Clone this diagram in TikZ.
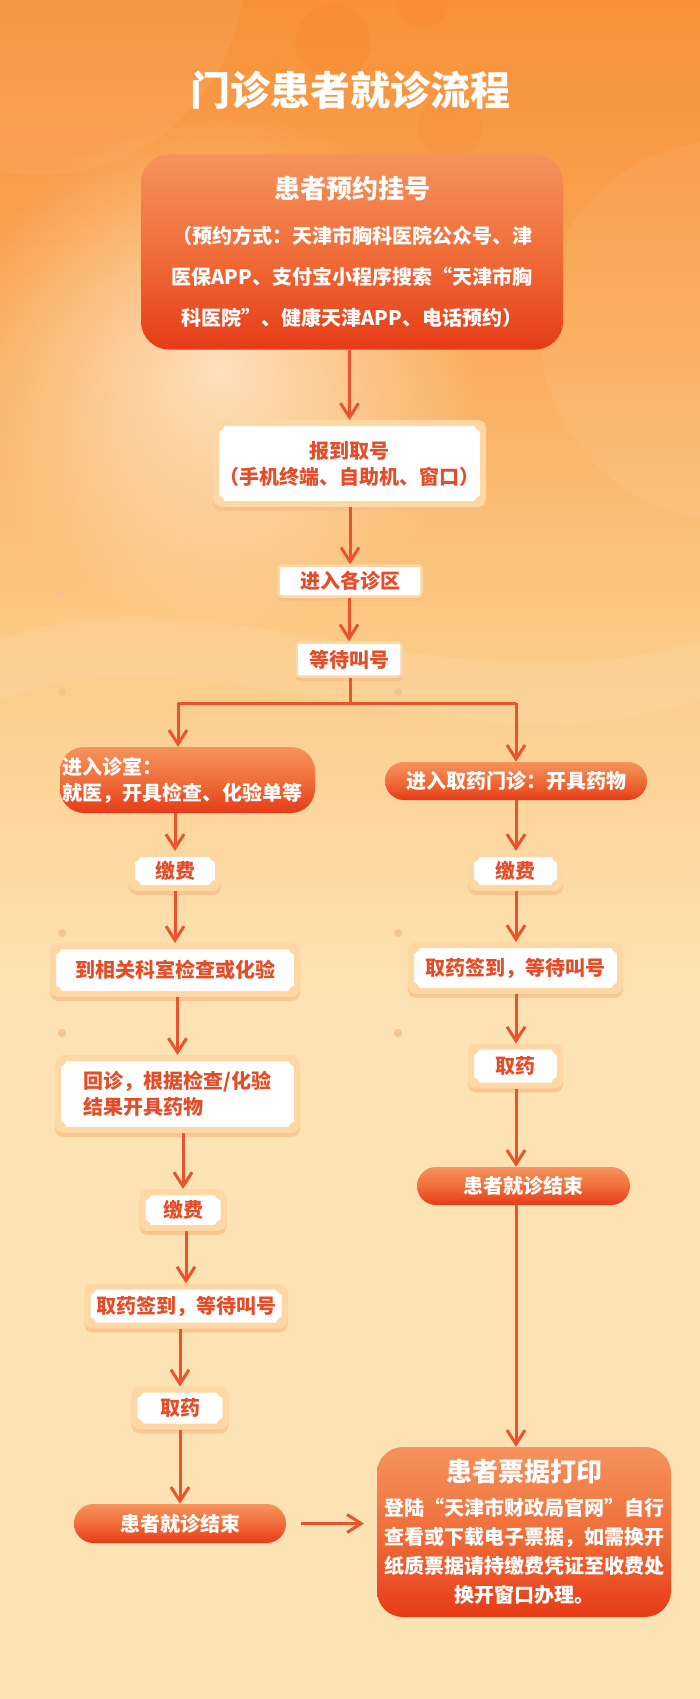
\documentclass[tikz,border=0pt]{standalone}
\usepackage{fontspec}
\setmainfont{Noto Sans CJK SC}
\usetikzlibrary{arrows.meta, positioning, shadows, fadings}

\definecolor{bgtop}{HTML}{F8913A}
\definecolor{bgup}{HTML}{F9A24E}
\definecolor{bgmid}{HTML}{FCCB88}
\definecolor{bgbot}{HTML}{FDE3B4}
\definecolor{cream}{HTML}{FFF1DA}
\definecolor{linecol}{HTML}{EA532D}
\definecolor{txtred}{HTML}{E44D27}
\definecolor{frame}{HTML}{FDD8A4}
\definecolor{frameshade}{HTML}{F6BE84}
\definecolor{orgtop}{HTML}{F5935C}
\definecolor{orgmid}{HTML}{F06E3A}
\definecolor{orgbot}{HTML}{E63B17}
\definecolor{dotcol}{HTML}{F3C48E}

\tikzfading[name=glowfade, inner color=transparent!0, outer color=transparent!100]

\begin{document}
\begin{tikzpicture}[
    x=1pt, y=-1pt,
    txt/.style={font=\bfseries\fontsize{20}{26}\selectfont},
    ticket/.style={rectangle, fill=white, draw=frame, line width=6pt, rounded corners=5pt,
                   text=txtred, txt, inner sep=0pt, align=center,
                   drop shadow={shadow xshift=0pt, shadow yshift=-4pt, fill=frameshade,
                                draw=frameshade, line width=6pt, opacity=.7},
                   path picture={\foreach \c in {north west, north east, south west, south east}
                       \fill[frame] (path picture bounding box.\c) circle (9pt);}},
    plainbox/.style={rectangle, fill=white, draw=frame, line width=2.5pt, rounded corners=3pt,
                     text=txtred, txt, inner sep=0pt,
                     drop shadow={shadow xshift=0pt, shadow yshift=-3pt, fill=frameshade,
                                  draw=frameshade, line width=2.5pt, opacity=.7}},
    hot/.style={rectangle, top color=orgtop, bottom color=orgbot, middle color=orgmid,
                text=white, txt, inner sep=0pt, align=center},
    arr/.style={draw=linecol, line width=3pt, -{Straight Barb[length=14pt, width=18pt]}},
    link/.style={draw=linecol, line width=3pt}
]
% Background
\useasboundingbox (0,0) rectangle (700,1699);
\fill[top color=bgtop, bottom color=bgup] (0,0) rectangle (700,250);
\fill[top color=bgup, bottom color=bgmid] (0,250) rectangle (700,650);
\fill[top color=bgmid, bottom color=bgbot] (0,650) rectangle (700,1000);
\fill[bgbot] (0,1000) rectangle (700,1699);
\fill[white, opacity=.06] (40,-30) circle (205);
\fill[white, opacity=.06] (730,330) circle (190);
\fill[cream, path fading=glowfade, opacity=.75] (220,370) circle (260);
\fill[white, opacity=.08] (0,640) .. controls (200,560) and (450,720) .. (700,640)
    -- (700,700) .. controls (450,780) and (200,620) .. (0,700) -- cycle;
\fill[orange!70!red, opacity=.07] (333,42) circle (38);
\fill[orange!70!red, opacity=.07] (450,127) circle (32);
\fill[orange!70!red, opacity=.07] (423,2) circle (26);
\foreach \p in {(62,593),(62,692),(398,692),(62,933),(398,933),(62,1033),(398,1033)}
    \fill[dotcol] \p circle (4);

% Title
\node[text=white, font=\bfseries\fontsize{40}{48}\selectfont] (title) at (350,90) {门诊患者就诊流程};

% Common trunk
\node[hot, rounded corners=28pt, minimum width=422pt, minimum height=195pt,
      font=\bfseries\fontsize{20}{41}\selectfont] (book) at (352,252)
    {{\fontsize{26}{30}\selectfont 患者预约挂号}\\[4pt]
     （预约方式：天津市胸科医院公众号、津\\
     医保APP、支付宝小程序搜索“天津市胸\\
     科医院”、健康天津APP、电话预约）};
\node[ticket, minimum width=267pt, minimum height=81pt] (checkin) at (349.5,463.5)
    {报到取号\\（手机终端、自助机、窗口）};
\node[plainbox, minimum width=143pt, minimum height=31pt] (area) at (350,581) {进入各诊区};
\node[plainbox, minimum width=105pt, minimum height=34pt] (wait) at (349,659.5) {等待叫号};
\coordinate (split) at (350,703);
\coordinate (lcol) at (178,703);
\coordinate (rcol) at (516,703);

% Consultation branch
\node[hot, rounded corners=24pt, minimum width=255pt, minimum height=66pt,
      text width=251pt, align=left, inner xsep=2pt] (clinic) at (187.5,780)
    {进入诊室：\\就医，开具检查、化验单等};
\node[ticket, minimum width=86pt, minimum height=34pt] (payL) at (175,871) {缴费};
\node[ticket, minimum width=244pt, minimum height=48pt] (lab) at (175,970) {到相关科室检查或化验};
\node[ticket, minimum width=239pt, minimum height=72pt, align=left] (revisit) at (177.5,1094)
    {回诊，根据检查/化验\\结果开具药物};
\node[ticket, minimum width=81pt, minimum height=36pt] (payL2) at (183,1210) {缴费};
\node[ticket, minimum width=197pt, minimum height=39pt] (signL) at (186,1306) {取药签到，等待叫号};
\node[ticket, minimum width=91pt, minimum height=37pt] (takeL) at (180,1408) {取药};
\node[hot, rounded corners=19.5pt, minimum width=212pt, minimum height=39pt] (endL) at (180,1523.5)
    {患者就诊结束};

% Pharmacy branch
\node[hot, rounded corners=19pt, minimum width=262pt, minimum height=38pt] (pharm) at (516,781)
    {进入取药门诊：开具药物};
\node[ticket, minimum width=89pt, minimum height=34pt] (payR) at (515.5,871) {缴费};
\node[ticket, minimum width=209pt, minimum height=46pt] (signR) at (515.5,968) {取药签到，等待叫号};
\node[ticket, minimum width=89pt, minimum height=39pt] (takeR) at (515.5,1066) {取药};
\node[hot, rounded corners=19pt, minimum width=213pt, minimum height=38pt] (endR) at (523.5,1186)
    {患者就诊结束};

% Receipt
\node[hot, rounded corners=26pt, minimum width=294pt, minimum height=170pt,
      font=\bfseries\fontsize{20}{29}\selectfont] (receipt) at (524,1532)
    {{\fontsize{26}{30}\selectfont 患者票据打印}\\[5pt]
     登陆“天津市财政局官网”自行\\
     查看或下载电子票据，如需换开\\
     纸质票据请持缴费凭证至收费处\\
     换开窗口办理。};

% Trunk arrows
\draw[arr] (checkin.north |- book.south) -- (checkin.north);
\draw[arr] (area.north |- checkin.south) -- (area.north);
\draw[arr] (wait.north |- area.south) -- (wait.north);
\draw[link] (split |- wait.south) -- (split);
\draw[link] (lcol) -- (rcol);
\draw[arr] (lcol) -- (lcol |- clinic.north);
\draw[arr] (rcol) -- (rcol |- pharm.north);

% Consultation arrows
\draw[arr] (payL.north |- clinic.south) -- (payL.north);
\draw[arr] (lab.north |- payL.south) -- (lab.north);
\draw[arr] (revisit.north |- lab.south) -- (revisit.north);
\draw[arr] (payL2.north |- revisit.south) -- (payL2.north);
\draw[arr] (signL.north |- payL2.south) -- (signL.north);
\draw[arr] (takeL.north |- signL.south) -- (takeL.north);
\draw[arr] (takeL.south) -- (takeL.south |- endL.north);

% Pharmacy arrows
\draw[arr] (rcol |- pharm.south) -- (rcol |- payR.north);
\draw[arr] (rcol |- payR.south) -- (rcol |- signR.north);
\draw[arr] (rcol |- signR.south) -- (rcol |- takeR.north);
\draw[arr] (rcol |- takeR.south) -- (rcol |- endR.north);
\draw[arr] (rcol |- endR.south) -- (rcol |- receipt.north);

% To receipt
\draw[arr, shorten <=15pt, shorten >=13pt] (endL.east) -- (endL.east -| receipt.west);
\end{tikzpicture}
\end{document}
